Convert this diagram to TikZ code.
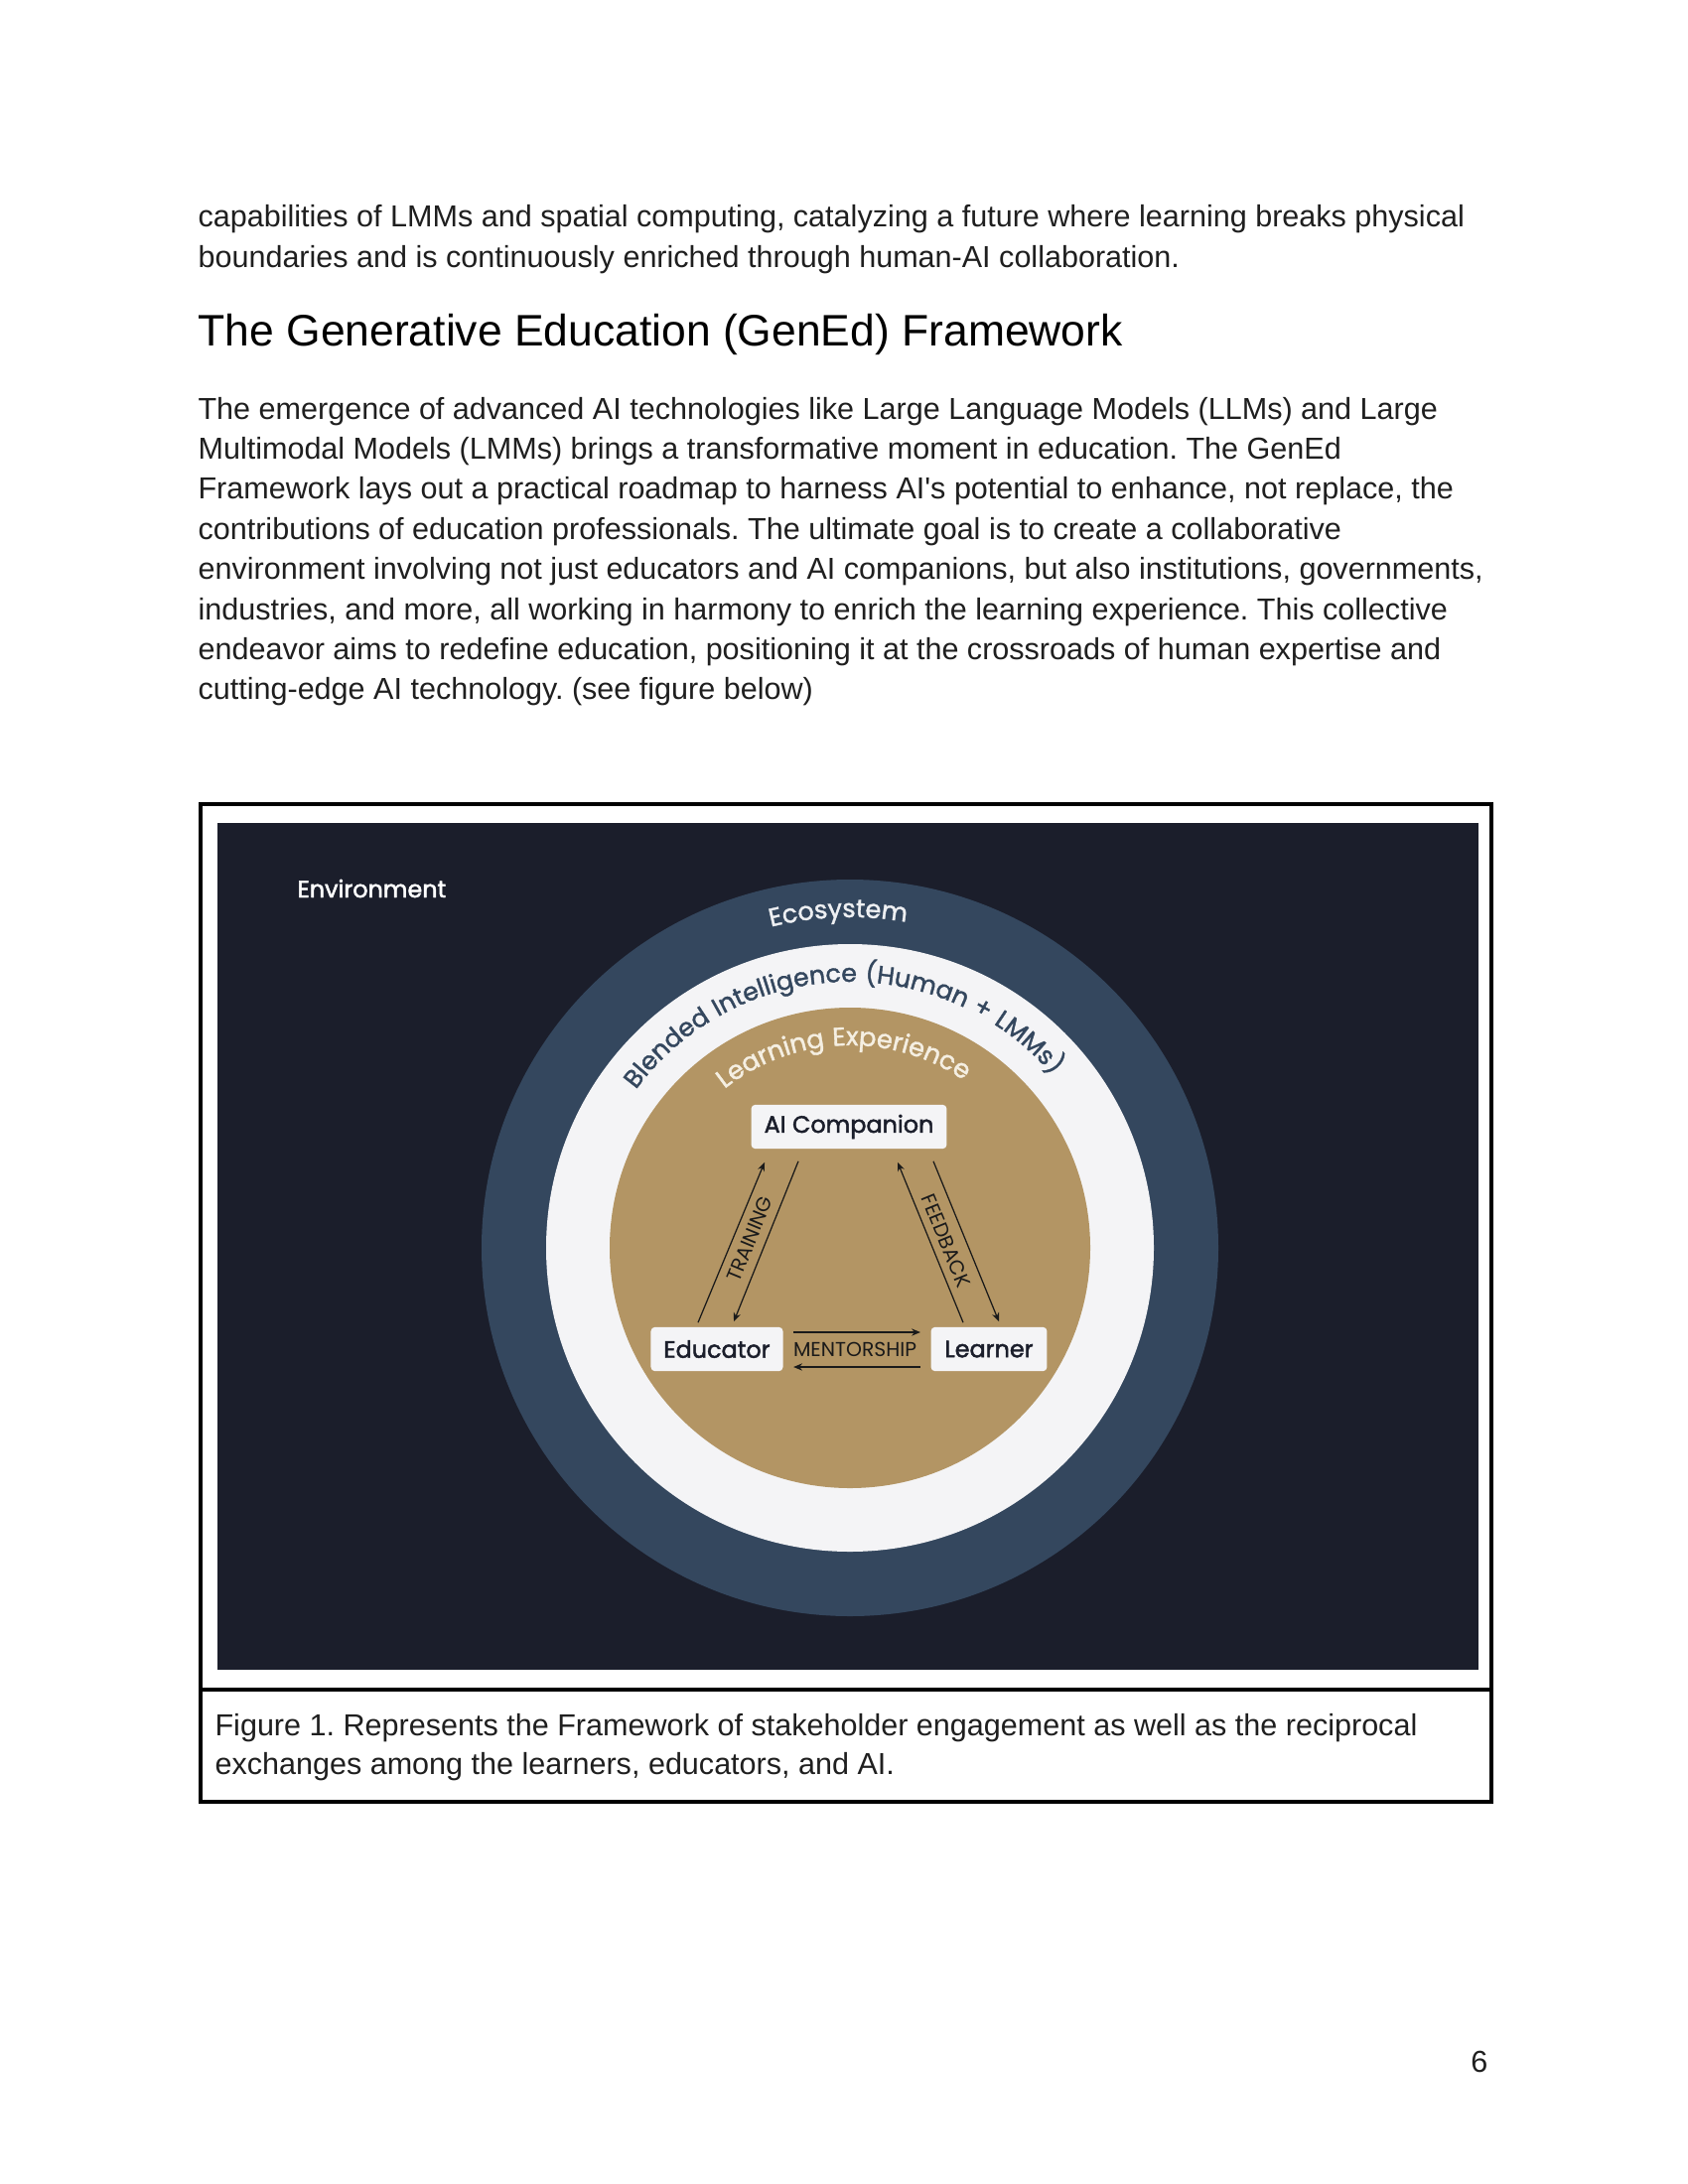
\documentclass[tikz,border=0pt]{standalone}
\usepackage{fontspec}
\setmainfont{Liberation Sans}[Ligatures=TeXOff]
\newfontfamily\pop{Poppins}
\newfontfamily\popm[FakeBold=2]{Poppins}
\newfontfamily\popeco[LetterSpace=10,FakeBold=1.5]{Poppins}
\newfontfamily\popbl[LetterSpace=5,FakeBold=1.5]{Poppins}
\newfontfamily\pople[LetterSpace=4,FakeBold=1.5]{Poppins}
\usetikzlibrary{arrows.meta,calc,decorations.text}
\frenchspacing
\definecolor{bodyc}{HTML}{1F1F1F}
\definecolor{envbg}{HTML}{1B1E2B}
\definecolor{ringblue}{HTML}{34475E}
\definecolor{ringwhite}{HTML}{F4F4F6}
\definecolor{gold}{HTML}{B39564}
\definecolor{creamtxt}{HTML}{F5EFE2}
\definecolor{ecotxt}{HTML}{EEF0F3}
\definecolor{boxc}{HTML}{F4F4F6}
\definecolor{boxtext}{HTML}{1B1E2B}
\definecolor{arrc}{HTML}{1A1A1A}
\begin{document}
\begin{tikzpicture}[x=0.36pt,y=-0.36pt,
  bodytext/.style={anchor=base west, inner sep=0pt, font=\frenchspacing\fontsize{11pt}{13pt}\selectfont, text=bodyc},
  headtext/.style={anchor=base west, inner sep=0pt, font=\fontsize{16pt}{19pt}\selectfont, text=black},
  box/.style={fill=boxc, rounded corners=1.5pt, inner sep=0pt, minimum height=16pt, font=\popm\fontsize{8.6pt}{10pt}\selectfont, text=boxtext},
  arr/.style={draw=arrc, line width=0.45pt, -{Stealth[length=3.2pt,width=2.6pt]}},
  lab/.style={font=\pop\fontsize{7.3pt}{8pt}\selectfont, text=arrc, inner sep=0pt},
  framel/.style={draw=black, line width=1.1pt}
]
\useasboundingbox[fill=white] (0,0) rectangle (1700,2200);

% top text
\node[bodytext] (t1) at (199,228.5) {capabilities of LMMs and spatial computing, catalyzing a future where learning breaks physical};
\node[bodytext] (t2) at (199,269.5) {boundaries and is continuously enriched through human-AI collaboration.};
\node[headtext] (hd) at (199,348) {The Generative Education (GenEd) Framework};
\node[bodytext] (p1) at (199,422) {The emergence of advanced AI technologies like Large Language Models (LLMs) and Large};
\node[bodytext] (p2) at (199,462.4) {Multimodal Models (LMMs) brings a transformative moment in education. The GenEd};
\node[bodytext] (p3) at (199,502.8) {Framework lays out a practical roadmap to harness AI's potential to enhance, not replace, the};
\node[bodytext] (p4) at (199,543.2) {contributions of education professionals. The ultimate goal is to create a collaborative};
\node[bodytext] (p5) at (199,583.6) {environment involving not just educators and AI companions, but also institutions, governments,};
\node[bodytext] (p6) at (199,624) {industries, and more, all working in harmony to enrich the learning experience. This collective};
\node[bodytext] (p7) at (199,664.4) {endeavor aims to redefine education, positioning it at the crossroads of human expertise and};
\node[bodytext] (p8) at (199,704.8) {cutting-edge AI technology. (see figure below)};

% figure frame
\draw[framel] (202,810) rectangle (1502,1815);
\draw[framel] (202,1702) -- (1502,1702);
\fill[envbg] (219,829) rectangle (1489,1682);

\node[anchor=base west, inner sep=0pt, font=\popm\fontsize{8.6pt}{10pt}\selectfont, text=white] (env) at (299,904) {Environment};

% circles
\coordinate (C) at (856,1257);
\fill[ringblue] (C) circle[radius=371];
\fill[ringwhite] (C) circle[radius=306];
\fill[gold] (C) circle[radius=242];

% curved labels
\path[decorate, decoration={text along path, text align=center, text color=ecotxt,
  text={|\popeco\fontsize{9.2pt}{10pt}\selectfont|Ecosystem}}]
  (C) ++(190:333) arc[start angle=190, end angle=346, radius=333];
\path[decorate, decoration={text along path, text align=center, text color=ringblue,
  text={|\popbl\fontsize{9.1pt}{10pt}\selectfont|Blended Intelligence (Human + LMMs)}}]
  (C) ++(188:268) arc[start angle=188, end angle=348, radius=268];
\path[decorate, decoration={text along path, text align=center, text color=creamtxt,
  text={|\pople\fontsize{9.3pt}{10pt}\selectfont|Learning Experience}}]
  (C) ++(188:204) arc[start angle=188, end angle=348, radius=204];

% boxes
\node[box, minimum width=70.9pt] (ai) at (855,1135) {AI Companion};
\node[box, minimum width=47.9pt] (edu) at (722,1359) {Educator};
\node[box, minimum width=42.1pt] (lrn) at (996,1359) {Learner};

% arrows
\draw[arr] ($(edu.north)+(-19,-4)$) -- ($(ai.south)+(-85,13)$);
\draw[arr] ($(ai.south)+(-51,12)$) -- ($(edu.north)+(17,-5)$);
\draw[arr] ($(lrn.north)+(-26,-4)$) -- ($(ai.south)+(49,13)$);
\draw[arr] ($(ai.south)+(85,12)$) -- ($(lrn.north)+(10,-5)$);
\draw[arr] ($(edu.east)+(10,-17)$) -- ($(lrn.west)+(-10,-17)$);
\draw[arr] ($(lrn.west)+(-10,18)$) -- ($(edu.east)+(10,18)$);

\node[lab, rotate=67.6] (tr) at (755,1248) {TRAINING};
\node[lab, rotate=-67.8] (fb) at (953,1250) {FEEDBACK};
\node[lab] (mt) at (861,1359) {MENTORSHIP};

% caption
\node[bodytext] (c1) at (216,1748) {Figure 1. Represents the Framework of stakeholder engagement as well as the reciprocal};
\node[bodytext] (c2) at (216,1787) {exchanges among the learners, educators, and AI.};

\node[anchor=base east, inner sep=0pt, font=\fontsize{11pt}{13pt}\selectfont, text=bodyc] (pg) at (1499,2087) {6};
\end{tikzpicture}
\end{document}
